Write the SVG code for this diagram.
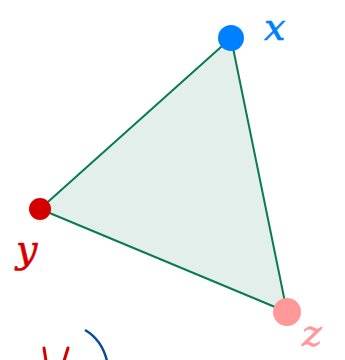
<svg xmlns="http://www.w3.org/2000/svg" width="345" height="360" viewBox="0 0 345 360">
<style>
.lbl{font-family:"DejaVu Serif","Liberation Serif",serif;font-style:italic;font-size:38px;stroke-width:0.6}
</style>
<rect width="345" height="360" fill="#ffffff"/>
<g id="edges">
<polygon points="231,38 40,209 287,312" fill="#e3efea" stroke="#0a7a55" stroke-width="2" stroke-linejoin="round"/>
</g>
<g id="node-x">
<circle cx="231" cy="38" r="13" fill="#0080ff"/>
<text class="lbl" x="264" y="40" fill="#0080ff" stroke="#0080ff">x</text>
</g>
<g id="node-y">
<circle cx="40" cy="209" r="11" fill="#d40000"/>
<text class="lbl" x="16" y="262" fill="#d40000" stroke="#d40000">y</text>
</g>
<g id="node-z">
<circle cx="287" cy="312" r="14" fill="#ff9999"/>
<text class="lbl" x="302" y="346" fill="#ff9999" stroke="#ff9999">z</text>
</g>
<g id="bottom">
<path d="M44,348 L46,361 M68,348 L64,361" stroke="#d40000" stroke-width="3" fill="none" stroke-linecap="round"/>
<path d="M85,330 Q102,340 107,361" stroke="#0a4a9a" stroke-width="2.5" fill="none"/>
</g>
</svg>
